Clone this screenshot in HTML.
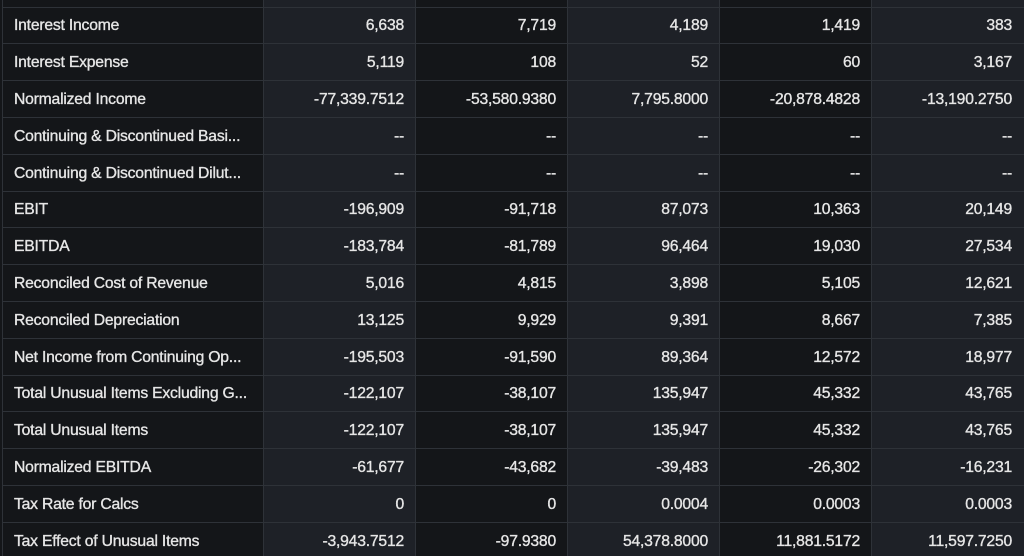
<!DOCTYPE html>
<html><head><meta charset="utf-8"><style>
html,body{margin:0;padding:0;background:#141619;width:1024px;height:556px;overflow:hidden}
body{position:relative;font-family:"Liberation Sans",sans-serif;font-size:15.7px;color:#e6e6e6}
.c{position:absolute;top:0;height:556px}
.d{background:#141619}.l{background:#1e2127}
.v{position:absolute;top:0;width:1px;height:556px;background:#2e3238}
.h{position:absolute;left:2px;right:0;height:1px;background:#2e3238}
.t{position:absolute;height:20px;line-height:20px;white-space:nowrap;-webkit-text-stroke:0.35px #e6e6e6;letter-spacing:-0.2px}
.r{text-align:right;width:140px}
</style></head><body>
<div class="c d" style="left:0;width:263px"></div>
<div class="c l" style="left:263px;width:152px"></div>
<div class="c d" style="left:415px;width:152px"></div>
<div class="c l" style="left:567px;width:152px"></div>
<div class="c d" style="left:719px;width:152px"></div>
<div class="c l" style="left:871px;width:153px"></div>
<div class="v" style="left:2px"></div><div class="v" style="left:263px"></div><div class="v" style="left:415px"></div><div class="v" style="left:567px"></div><div class="v" style="left:719px"></div><div class="v" style="left:871px"></div>
<div id="g"></div>
<script>
var rows=[
["Interest Income","6,638","7,719","4,189","1,419","383"],
["Interest Expense","5,119","108","52","60","3,167"],
["Normalized Income","-77,339.7512","-53,580.9380","7,795.8000","-20,878.4828","-13,190.2750"],
["Continuing & Discontinued Basi...","--","--","--","--","--"],
["Continuing & Discontinued Dilut...","--","--","--","--","--"],
["EBIT","-196,909","-91,718","87,073","10,363","20,149"],
["EBITDA","-183,784","-81,789","96,464","19,030","27,534"],
["Reconciled Cost of Revenue","5,016","4,815","3,898","5,105","12,621"],
["Reconciled Depreciation","13,125","9,929","9,391","8,667","7,385"],
["Net Income from Continuing Op...","-195,503","-91,590","89,364","12,572","18,977"],
["Total Unusual Items Excluding G...","-122,107","-38,107","135,947","45,332","43,765"],
["Total Unusual Items","-122,107","-38,107","135,947","45,332","43,765"],
["Normalized EBITDA","-61,677","-43,682","-39,483","-26,302","-16,231"],
["Tax Rate for Calcs","0","0","0.0004","0.0003","0.0003"],
["Tax Effect of Unusual Items","-3,943.7512","-97.9380","54,378.8000","11,881.5172","11,597.7250"]];
var h="",H=36.8,top0=7;
for(var i=0;i<=15;i++){h+='<div class="h" style="top:'+Math.round(top0+i*H-0.5)+'px"></div>';}
var rights=[404,556,708,860,1012];
rows.forEach(function(r,i){var cy=top0+i*H+H/2-9;
h+='<div class="t" style="left:14px;top:'+cy.toFixed(1)+'px">'+r[0].replace(/&/g,"&amp;")+'</div>';
for(var j=1;j<6;j++){h+='<div class="t r" style="left:'+(rights[j-1]-140)+'px;top:'+cy.toFixed(1)+'px">'+r[j]+'</div>';}
});
document.getElementById("g").innerHTML=h;
</script>
</body></html>
